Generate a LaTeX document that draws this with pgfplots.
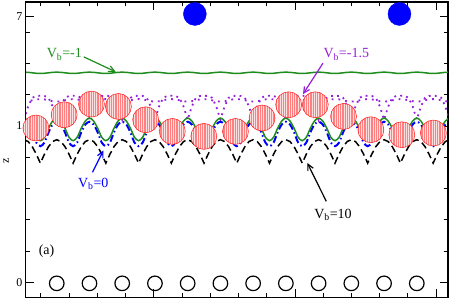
\documentclass[border=0pt]{standalone}
\usepackage{pgfplots}
\pgfplotsset{compat=1.18}
\usepackage{pgfplotstable}
\usepackage{fontspec}
\setmainfont{Liberation Serif}
\usetikzlibrary{arrows.meta}
\definecolor{mygreen}{RGB}{30,140,30}
\definecolor{mypurple}{RGB}{150,30,220}
\pgfdeclareplotmark{hatchcirc}{%
  \pgfpathcircle{\pgfpointorigin}{\pgfplotmarksize}%
  \pgfsetfillcolor{red!12}%
  \pgfusepath{fill}%
  \begin{pgfscope}%
    \pgfpathcircle{\pgfpointorigin}{\pgfplotmarksize}%
    \pgfusepath{clip}%
    \pgfsetstrokecolor{red!50}%
    \pgfsetlinewidth{0.4pt}%
    \foreach \i in {-7,...,7}{%
      \pgfpathmoveto{\pgfpoint{1.8pt*\i}{-14pt}}%
      \pgfpathlineto{\pgfpoint{1.8pt*\i}{14pt}}%
      \pgfusepath{stroke}%
    }%
  \end{pgfscope}%
  \pgfpathcircle{\pgfpointorigin}{\pgfplotmarksize}%
  \pgfsetstrokecolor{red!90}%
  \pgfsetlinewidth{0.5pt}%
  \pgfusepath{stroke}%
}
\pgfplotstableread{
x bk gr bl pa pb gt
-1 4.561 5.254 5.136 5.20 5.78 6.72
-0.875 4.504 5.16 5.05 5.62 5.79 6.715
-0.75 4.342 4.93 4.80 5.90 5.82 6.70
-0.625 4.099 4.64 4.47 5.96 5.85 6.685
-0.5 3.812 4.53 4.354 5.965 5.86 6.68
-0.375 4.099 4.64 4.47 5.96 5.85 6.685
-0.25 4.342 4.93 4.80 5.90 5.82 6.70
-0.125 4.504 5.16 5.05 5.62 5.79 6.715
0 4.561 5.254 5.136 5.20 5.78 6.72
0.125 4.504 5.16 5.05 5.62 5.79 6.715
0.25 4.342 4.93 4.80 5.90 5.82 6.70
0.375 4.099 4.64 4.47 5.96 5.85 6.685
0.5 3.812 4.53 4.354 5.965 5.86 6.68
0.625 4.099 4.64 4.47 5.96 5.85 6.685
0.75 4.342 4.93 4.80 5.90 5.82 6.70
0.875 4.504 5.16 5.05 5.62 5.79 6.715
1 4.561 5.254 5.136 5.20 5.78 6.72
1.125 4.504 5.16 5.05 5.62 5.79 6.715
1.25 4.342 4.93 4.80 5.90 5.82 6.70
1.375 4.099 4.64 4.47 5.96 5.85 6.685
1.5 3.812 4.53 4.354 5.965 5.86 6.68
1.625 4.099 4.64 4.47 5.96 5.85 6.685
1.75 4.342 4.93 4.80 5.90 5.82 6.70
1.875 4.504 5.16 5.05 5.62 5.79 6.715
2 4.561 5.254 5.136 5.20 5.78 6.72
2.125 4.504 5.16 5.05 5.62 5.79 6.715
2.25 4.342 4.93 4.80 5.90 5.82 6.70
2.375 4.099 4.64 4.47 5.96 5.85 6.685
2.5 3.812 4.53 4.354 5.965 5.86 6.68
2.625 4.099 4.64 4.47 5.96 5.85 6.685
2.75 4.342 4.93 4.80 5.90 5.82 6.70
2.875 4.504 5.16 5.05 5.62 5.79 6.715
3 4.561 5.254 5.136 5.20 5.78 6.72
3.125 4.504 5.16 5.05 5.62 5.79 6.715
3.25 4.342 4.93 4.80 5.90 5.82 6.70
3.375 4.099 4.64 4.47 5.96 5.85 6.685
3.5 3.812 4.53 4.354 5.965 5.86 6.68
3.625 4.099 4.64 4.47 5.96 5.85 6.685
3.75 4.342 4.93 4.80 5.90 5.82 6.70
3.875 4.504 5.16 5.05 5.62 5.79 6.715
4 4.561 5.254 5.136 5.20 5.78 6.72
4.125 4.504 5.16 5.05 5.62 5.79 6.715
4.25 4.342 4.93 4.80 5.90 5.82 6.70
4.375 4.099 4.64 4.47 5.96 5.85 6.685
4.5 3.812 4.53 4.354 5.965 5.86 6.68
4.625 4.099 4.64 4.47 5.96 5.85 6.685
4.75 4.342 4.93 4.80 5.90 5.82 6.70
4.875 4.504 5.16 5.05 5.62 5.79 6.715
5 4.561 5.254 5.136 5.20 5.78 6.72
5.125 4.504 5.16 5.05 5.62 5.79 6.715
5.25 4.342 4.93 4.80 5.90 5.82 6.70
5.375 4.099 4.64 4.47 5.96 5.85 6.685
5.5 3.812 4.53 4.354 5.965 5.86 6.68
5.625 4.099 4.64 4.47 5.96 5.85 6.685
5.75 4.342 4.93 4.80 5.90 5.82 6.70
5.875 4.504 5.16 5.05 5.62 5.79 6.715
6 4.561 5.254 5.136 5.20 5.78 6.72
6.125 4.504 5.16 5.05 5.62 5.79 6.715
6.25 4.342 4.93 4.80 5.90 5.82 6.70
6.375 4.099 4.64 4.47 5.96 5.85 6.685
6.5 3.812 4.53 4.354 5.965 5.86 6.68
6.625 4.099 4.64 4.47 5.96 5.85 6.685
6.75 4.342 4.93 4.80 5.90 5.82 6.70
6.875 4.504 5.16 5.05 5.62 5.79 6.715
7 4.561 5.254 5.136 5.20 5.78 6.72
7.125 4.504 5.16 5.05 5.62 5.79 6.715
7.25 4.342 4.93 4.80 5.90 5.82 6.70
7.375 4.099 4.64 4.47 5.96 5.85 6.685
7.5 3.812 4.53 4.354 5.965 5.86 6.68
7.625 4.099 4.64 4.47 5.96 5.85 6.685
7.75 4.342 4.93 4.80 5.90 5.82 6.70
7.875 4.504 5.16 5.05 5.62 5.79 6.715
8 4.561 5.254 5.136 5.20 5.78 6.72
8.125 4.504 5.16 5.05 5.62 5.79 6.715
8.25 4.342 4.93 4.80 5.90 5.82 6.70
8.375 4.099 4.64 4.47 5.96 5.85 6.685
8.5 3.812 4.53 4.354 5.965 5.86 6.68
8.625 4.099 4.64 4.47 5.96 5.85 6.685
8.75 4.342 4.93 4.80 5.90 5.82 6.70
8.875 4.504 5.16 5.05 5.62 5.79 6.715
9 4.561 5.254 5.136 5.20 5.78 6.72
9.125 4.504 5.16 5.05 5.62 5.79 6.715
9.25 4.342 4.93 4.80 5.90 5.82 6.70
9.375 4.099 4.64 4.47 5.96 5.85 6.685
9.5 3.812 4.53 4.354 5.965 5.86 6.68
9.625 4.099 4.64 4.47 5.96 5.85 6.685
9.75 4.342 4.93 4.80 5.90 5.82 6.70
9.875 4.504 5.16 5.05 5.62 5.79 6.715
10 4.561 5.254 5.136 5.20 5.78 6.72
10.125 4.504 5.16 5.05 5.62 5.79 6.715
10.25 4.342 4.93 4.80 5.90 5.82 6.70
10.375 4.099 4.64 4.47 5.96 5.85 6.685
10.5 3.812 4.53 4.354 5.965 5.86 6.68
10.625 4.099 4.64 4.47 5.96 5.85 6.685
10.75 4.342 4.93 4.80 5.90 5.82 6.70
10.875 4.504 5.16 5.05 5.62 5.79 6.715
11 4.561 5.254 5.136 5.20 5.78 6.72
11.125 4.504 5.16 5.05 5.62 5.79 6.715
11.25 4.342 4.93 4.80 5.90 5.82 6.70
11.375 4.099 4.64 4.47 5.96 5.85 6.685
11.5 3.812 4.53 4.354 5.965 5.86 6.68
11.625 4.099 4.64 4.47 5.96 5.85 6.685
11.75 4.342 4.93 4.80 5.90 5.82 6.70
11.875 4.504 5.16 5.05 5.62 5.79 6.715
12 4.561 5.254 5.136 5.20 5.78 6.72
}\curves
\pgfplotstableread{
x z
-0.637 4.935
0.226 5.359
1.061 5.700
1.884 5.624
2.716 5.199
3.530 4.826
4.494 4.667
5.460 4.826
6.274 5.254
7.085 5.678
7.899 5.678
8.762 5.305
9.598 4.880
10.543 4.721
11.506 4.775
}\chain
\begin{document}
\begin{tikzpicture}
\begin{axis}[
  scale only axis, width=423pt, height=296pt,
  xmin=-0.942, xmax=11.954, ymin=-0.478, ymax=8.963,
  axis line style={line width=1.1pt},
  tick align=inside,
  major tick length=8pt, minor tick length=4.5pt,
  every tick/.style={black, line width=0.9pt},
  xtick={2.965,7.278,11.590}, xticklabels={},
  minor xtick={-0.485,0.378,1.240,2.103,3.828,4.690,5.553,6.415,8.140,9.003,9.865,10.728},
  ytick={0,5,8.5}, yticklabels={0,1,7},
  minor ytick={1,2,3,4,6,7,8},
  /pgf/number format/assume math mode=true,
  yticklabel style={font=\fontsize{12}{12}\selectfont},
  ylabel={z},
  ylabel style={at={(axis description cs:-0.047,0.463)}, anchor=center, font=\fontsize{12}{12}\selectfont},
]
\addplot[only marks, mark=hatchcirc, mark size=13pt] table[x=x, y=z] {\chain};
\addplot[mypurple, line width=1.8pt, dash pattern=on 1.8pt off 4.2pt] table[x=x, y=pa] {\curves};
\addplot[mypurple, line width=1.8pt, smooth, dash pattern=on 1.8pt off 5pt] table[x=x, y=pb] {\curves};
\addplot[black, line width=1.5pt, dash pattern=on 7pt off 4pt] table[x=x, y=bk] {\curves};
\addplot[blue, line width=2pt, smooth, dash pattern=on 7pt off 3pt on 1.5pt off 3pt] table[x=x, y=bl] {\curves};
\addplot[mygreen, line width=1.5pt, smooth] table[x=x, y=gr] {\curves};
\addplot[mygreen, line width=1.5pt, smooth] table[x=x, y=gt] {\curves};
\addplot[only marks, mark=o, mark size=7.3pt, mark options={black, line width=1.2pt}] coordinates {
 (0,-0.03) (1,-0.03) (2,-0.03) (3,-0.03) (4,-0.03) (5,-0.03) (6,-0.03) (7,-0.03) (8,-0.03) (9,-0.03) (10,-0.03) (11,-0.03)};
\addplot[only marks, mark=*, mark size=11.5pt, mark options={draw=blue, fill=blue}] coordinates {(4.22,8.58) (10.47,8.58)};
\node[mygreen, font=\fontsize{14}{14}\selectfont] at (axis cs:0.232,7.289) {V\textsubscript{b}=-1};
\draw[-{Straight Barb[length=6pt,width=6pt]}, mygreen, line width=1.2pt] (axis cs:0.826,7.209) -- (axis cs:1.802,6.730);
\node[mypurple, font=\fontsize{14}{14}\selectfont] at (axis cs:8.845,7.289) {V\textsubscript{b}=-1.5};
\draw[-{Straight Barb[length=6pt,width=6pt]}, mypurple, line width=1.2pt] (axis cs:8.134,7.008) -- (axis cs:7.524,6.019);
\node[blue, font=\fontsize{14}{14}\selectfont] at (axis cs:1.116,3.158) {V\textsubscript{b}=0};
\draw[-{Straight Barb[length=6pt,width=6pt]}, blue, line width=1.2pt] (axis cs:1.091,3.518) -- (axis cs:1.427,4.220);
\node[black, font=\fontsize{14}{14}\selectfont] at (axis cs:8.439,2.169) {V\textsubscript{b}=10};
\draw[-{Straight Barb[length=6pt,width=6pt]}, black, line width=1.2pt] (axis cs:8.235,2.593) -- (axis cs:7.655,3.818);
\node[black, font=\fontsize{14}{14}\selectfont] at (axis cs:-0.311,0.998) {(a)};
\end{axis}
\path (-25pt,-3pt) rectangle (427pt,298pt);
\end{tikzpicture}
\end{document}
